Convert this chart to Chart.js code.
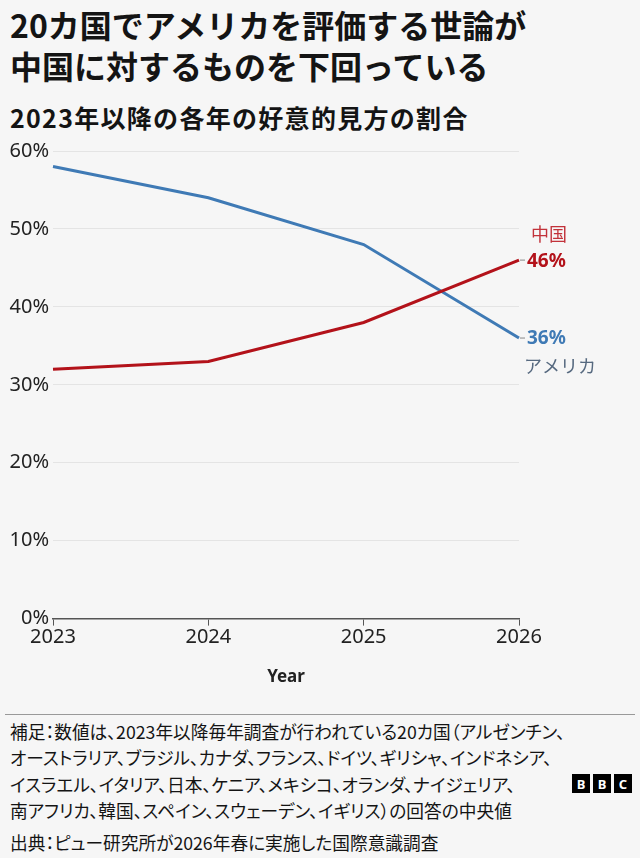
<!DOCTYPE html>
<html lang="ja">
<head>
<meta charset="utf-8">
<script src="https://cdn.jsdelivr.net/npm/chart.js@4.4.1/dist/chart.umd.min.js"></script>
<style>
  html, body { margin: 0; padding: 0; }
  body {
    width: 640px; height: 858px; background: #f6f6f6; position: relative;
    font-family: "Noto Sans CJK JP", "Noto Sans", sans-serif; color: #141414; overflow: hidden;
  }
  h1 { position: absolute; left: 10px; top: 4px; margin: 0; font-size: 32px; line-height: 41px; font-weight: 700; white-space: nowrap; }
  h2 { position: absolute; left: 10px; top: 100px; margin: 0; font-size: 25px; line-height: 34px; font-weight: 700; white-space: nowrap; letter-spacing: 1.3px; }
  #wrap { position: absolute; left: 0; top: 135px; width: 640px; height: 556px; }
  #rule { position: absolute; left: 5px; right: 5px; top: 714px; border-top: 1px solid #999; }
  .note, .src { position: absolute; left: 10px; margin: 0; font-size: 17.7px; white-space: nowrap; font-feature-settings: "palt"; }
  .note { top: 718px; line-height: 26.3px; }
  .src { top: 829px; line-height: 26px; }
  #bbc { position: absolute; left: 572px; top: 774px; display: flex; gap: 3px; }
  #bbc span { width: 18px; height: 19px; background: #000; color: #fff; font: 700 13px "Noto Sans", sans-serif; display: flex; align-items: center; justify-content: center; }
</style>
</head>
<body>
<h1>20カ国でアメリカを評価する世論が<br>中国に対するものを下回っている</h1>
<h2>2023年以降の各年の好意的見方の割合</h2>
<div id="wrap"><canvas id="chart"></canvas></div>
<div id="rule"></div>
<p class="note">補足：数値は、2023年以降毎年調査が行われている20カ国（アルゼンチン、<br>オーストラリア、ブラジル、カナダ、フランス、ドイツ、ギリシャ、インドネシア、<br>イスラエル、イタリア、日本、ケニア、メキシコ、オランダ、ナイジェリア、<br>南アフリカ、韓国、スペイン、スウェーデン、イギリス）の回答の中央値</p>
<p class="src">出典：ピュー研究所が2026年春に実施した国際意識調査</p>
<div id="bbc"><span>B</span><span>B</span><span>C</span></div>
<script>
const years = ["2023", "2024", "2025", "2026"];
const china = [32, 33, 38, 46];
const usa = [58, 54, 48, 36];
const names = ["中国", "アメリカ"];
const yTicks = [0, 10, 20, 30, 40, 50, 60];

const RED = "#b3121a";
const BLUE = "#3f7ab5";

// labels at the end of each line
const endLabels = {
  id: "endLabels",
  afterDatasetsDraw(chart) {
    const ctx = chart.ctx;
    ctx.save();
    chart.data.datasets.forEach((ds, i) => {
      const pts = chart.getDatasetMeta(i).data;
      const p = pts[pts.length - 1];
      const v = ds.data[ds.data.length - 1];
      ctx.strokeStyle = "#888";
      ctx.lineWidth = 1;
      ctx.beginPath();
      ctx.moveTo(p.x + 1, p.y);
      ctx.lineTo(p.x + 6, p.y);
      ctx.stroke();
      ctx.textBaseline = "middle";
      ctx.textAlign = "left";
      ctx.font = "700 19px 'Noto Sans', sans-serif";
      ctx.fillStyle = ds.borderColor;
      ctx.fillText(v + "%", p.x + 8, p.y + 1);
      ctx.font = "18px 'Noto Sans CJK JP', sans-serif";
      if (i === 0) {
        ctx.fillStyle = "#c2323a";
        ctx.fillText(ds.label, p.x + 12, p.y - 26);
      } else {
        ctx.fillStyle = "#56697f";
        ctx.fillText(ds.label, p.x + 5, p.y + 28);
      }
    });
    ctx.restore();
  }
};

new Chart(document.getElementById("chart"), {
  type: "line",
  data: {
    labels: years,
    datasets: [
      { label: names[0], data: china, borderColor: RED, borderWidth: 3, pointRadius: 0, tension: 0 },
      { label: names[1], data: usa, borderColor: BLUE, borderWidth: 3, pointRadius: 0, tension: 0 }
    ]
  },
  options: {
    responsive: true,
    maintainAspectRatio: false,
    animation: false,
    layout: { padding: { left: 0, right: 121, top: 13, bottom: 0 } },
    plugins: { legend: { display: false }, tooltip: { enabled: false } },
    scales: {
      x: {
        grid: { drawOnChartArea: false, drawTicks: true, tickLength: 7, color: "#555" },
        border: { color: "#555", width: 1.5 },
        ticks: { color: "#222", font: { family: "Noto Sans", size: 20 }, padding: 0, maxRotation: 0 },
        title: { display: true, text: "Year", color: "#222", font: { family: "Noto Sans", size: 17, weight: "700" }, padding: { top: 17 } }
      },
      y: {
        min: 0, max: 60,
        afterFit(scale) { scale.width = 53; },
        afterBuildTicks(scale) { scale.ticks = yTicks.map(v => ({ value: v })); },
        grid: { drawTicks: false, color: ctx => ctx.tick && ctx.tick.value === 0 ? "rgba(0,0,0,0)" : "#e4e4e4" },
        border: { display: false },
        ticks: { color: "#222", font: { family: "Noto Sans", size: 20 }, padding: 4, callback: v => v + "%" }
      }
    }
  },
  plugins: [endLabels]
});
</script>
</body>
</html>
